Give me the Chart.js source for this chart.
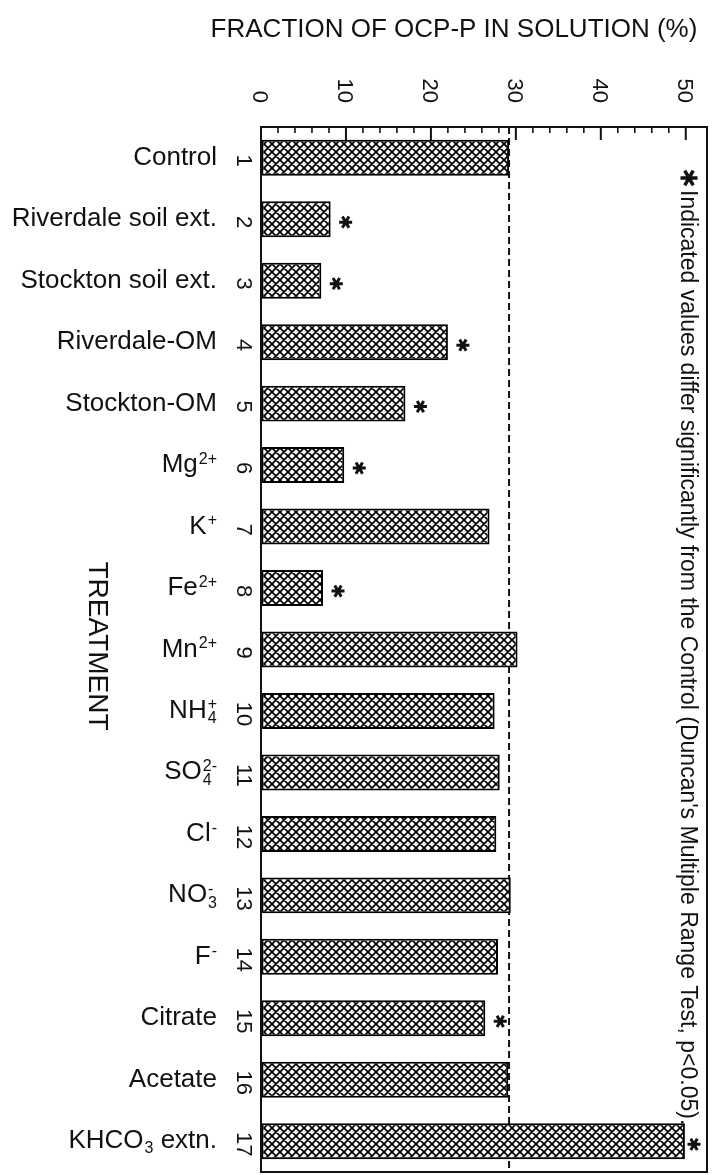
<!DOCTYPE html>
<html>
<head>
<meta charset="utf-8">
<title>Fraction of OCP-P in solution by treatment</title>
<script src="https://cdn.jsdelivr.net/npm/chart.js@4.4.1/dist/chart.umd.min.js"></script>
<style>
  html, body { margin: 0; padding: 0; background: #fff; }
  #wrap { width: 725px; height: 1175px; position: relative; }
  canvas { display: block; }
</style>
</head>
<body>
<div id="wrap"><canvas id="chart" width="725" height="1175"></canvas></div>
<script>
// ---- data ----
const treatmentNumbers = ["1","2","3","4","5","6","7","8","9","10","11","12","13","14","15","16","17"];
// ^{..} = superscript, _{..} = subscript
const treatmentNames = [
  "Control", "Riverdale soil ext.", "Stockton soil ext.", "Riverdale-OM", "Stockton-OM",
  "Mg^{2+}", "K^{+}", "Fe^{2+}", "Mn^{2+}", "NH_{4}^{+}", "SO_{4}^{2-}", "Cl^{-}",
  "NO_{3}^{-}", "F^{-}", "Citrate", "Acetate", "KHCO_{3} extn."
];
const fractionValues = [29.2, 8.2, 7.1, 22.0, 17.0, 9.8, 26.9, 7.3, 30.2, 27.5, 28.1, 27.7, 29.4, 27.9, 26.4, 29.1, 49.9];
const significant = [false, true, true, true, true, true, false, true, false, false, false, false, false, false, true, false, true];
const axisTickLabels = [0, 10, 20, 30, 40, 50];
const axisTitle = "FRACTION OF OCP-P IN SOLUTION (%)";
const categoryTitle = "TREATMENT";
const footnote = "Indicated values differ significantly from the Control (Duncan's Multiple Range Test, p<0.05).";

const FONT = '"Liberation Sans", Arial, Helvetica, sans-serif';
const INK = '#111';

// cross-hatched fill for the bars
function crossHatch() {
  const s = 8;
  const c = document.createElement('canvas');
  c.width = s; c.height = s;
  const g = c.getContext('2d');
  g.fillStyle = '#fff';
  g.fillRect(0, 0, s, s);
  g.strokeStyle = '#000';
  g.lineWidth = 1.8;
  g.beginPath();
  for (let k = -1; k <= 1; k++) {
    g.moveTo(-2, -2 + k * s); g.lineTo(s + 2, s + 2 + k * s);
  }
  for (let k = 0; k <= 2; k++) {
    g.moveTo(-2, k * s + 2); g.lineTo(s + 2, k * s - s - 2);
  }
  g.stroke();
  return g.createPattern(c, 'repeat');
}

// six-armed asterisk
function drawStar(ctx, cx, cy, r, w) {
  ctx.save();
  ctx.strokeStyle = INK;
  ctx.lineWidth = w;
  ctx.lineCap = 'butt';
  ctx.beginPath();
  for (let a = 0; a < 3; a++) {
    const ang = a * Math.PI / 3;
    ctx.moveTo(cx - r * Math.cos(ang), cy - r * Math.sin(ang));
    ctx.lineTo(cx + r * Math.cos(ang), cy + r * Math.sin(ang));
  }
  ctx.stroke();
  ctx.restore();
}

// text rotated 90 degrees clockwise (reads top to bottom)
function textCW(ctx, text, x, y, size, align) {
  ctx.save();
  ctx.translate(x, y);
  ctx.rotate(Math.PI / 2);
  ctx.font = size + 'px ' + FONT;
  ctx.fillStyle = INK;
  ctx.textAlign = align;
  ctx.textBaseline = 'alphabetic';
  ctx.fillText(text, 0, 0);
  ctx.restore();
}

function parseRich(str) {
  const parts = [];
  const re = /([\^_])\{([^}]*)\}|([^\^_]+)/g;
  let m;
  while ((m = re.exec(str))) {
    if (m[3]) parts.push({ k: 'n', t: m[3] });
    else parts.push({ k: m[1] === '^' ? 'sup' : 'sub', t: m[2] });
  }
  return parts;
}

// label with sub/superscripts, right-aligned at x, baseline y
function drawRichRight(ctx, str, x, y, size) {
  const parts = parseRich(str);
  const small = Math.round(size * 0.6);
  const runs = [];
  let pos = 0;
  for (let i = 0; i < parts.length; i++) {
    const p = parts[i];
    if (p.k === 'n') {
      ctx.font = size + 'px ' + FONT;
      runs.push({ t: p.t, f: ctx.font, dx: pos, dy: 0 });
      pos += ctx.measureText(p.t).width;
    } else {
      ctx.font = small + 'px ' + FONT;
      const dy = p.k === 'sup' ? -size * 0.31 : size * 0.2;
      const x0 = pos + 1;
      runs.push({ t: p.t, f: ctx.font, dx: x0, dy });
      let w = ctx.measureText(p.t).width;
      const nx = parts[i + 1];
      if (p.k === 'sub' && nx && nx.k === 'sup') {
        runs.push({ t: nx.t, f: ctx.font, dx: x0, dy: -size * 0.33 });
        w = Math.max(w, ctx.measureText(nx.t).width);
        i++;
      }
      pos = x0 + w;
    }
  }
  const start = x - pos;
  ctx.save();
  ctx.fillStyle = INK;
  ctx.textAlign = 'left';
  ctx.textBaseline = 'alphabetic';
  runs.forEach(r => { ctx.font = r.f; ctx.fillText(r.t, start + r.dx, y + r.dy); });
  ctx.restore();
}

const decorations = {
  id: 'decorations',
  beforeDatasetsDraw(chart) {
    const { ctx, chartArea: a, scales: { x } } = chart;
    // reference line at the Control value
    const xc = x.getPixelForValue(fractionValues[0]);
    ctx.save();
    ctx.strokeStyle = INK;
    ctx.lineWidth = 2;
    ctx.setLineDash([7, 4]);
    ctx.beginPath();
    ctx.moveTo(xc, a.top);
    ctx.lineTo(xc, a.bottom);
    ctx.stroke();
    ctx.restore();
  },
  afterDatasetsDraw(chart) {
    const { ctx, chartArea: a, scales: { x, y } } = chart;
    ctx.save();
    // frame
    ctx.strokeStyle = INK;
    ctx.lineWidth = 2;
    ctx.strokeRect(a.left, a.top, a.right - a.left, a.bottom - a.top);
    // inward tick marks along the value axis
    x.ticks.forEach(t => {
      const v = t.value;
      if (v <= x.min || v % 2 !== 0) return;
      const px = x.getPixelForValue(v);
      const major = v % 10 === 0;
      ctx.lineWidth = major ? 2 : 1.6;
      ctx.beginPath();
      ctx.moveTo(px, a.top);
      ctx.lineTo(px, a.top + (major ? 13 : 6));
      ctx.stroke();
    });
    ctx.restore();

    // value-axis labels
    axisTickLabels.forEach(v => {
      const px = x.getPixelForValue(v);
      textCW(ctx, String(v), px - 0.358 * 22, 103, 22, 'right');
    });

    // axis title
    ctx.save();
    ctx.font = '26px ' + FONT;
    ctx.fillStyle = INK;
    ctx.textAlign = 'center';
    ctx.textBaseline = 'alphabetic';
    ctx.fillText(axisTitle, 454, 37);
    ctx.restore();

    // category numbers, names and significance marks
    const meta = chart.getDatasetMeta(0);
    treatmentNumbers.forEach((num, i) => {
      const cy = y.getPixelForValue(i);
      textCW(ctx, num, 237, cy + 3, 22, 'center');
      drawRichRight(ctx, treatmentNames[i], 217, cy + 7, 26);
      if (significant[i]) {
        const bar = meta.data[i];
        const sx = Math.min(bar.x + 15, a.right - 13);
        drawStar(ctx, sx, cy + 3, 6.5, 3);
      }
    });

    // category title
    textCW(ctx, categoryTitle, 89, 646, 28, 'center');

    // footnote
    drawStar(ctx, 689, 178, 8.5, 3.5);
    textCW(ctx, footnote, 681, 190, 23, 'left');
  }
};

const ctx = document.getElementById('chart').getContext('2d');
new Chart(ctx, {
  type: 'bar',
  data: {
    labels: treatmentNumbers,
    datasets: [{
      data: fractionValues,
      backgroundColor: crossHatch(),
      borderColor: '#000',
      borderWidth: 2,
      borderSkipped: false,
      barPercentage: 0.585,
      categoryPercentage: 1
    }]
  },
  options: {
    indexAxis: 'y',
    responsive: false,
    animation: false,
    devicePixelRatio: 1,
    layout: { padding: { left: 261, right: 18, top: 127, bottom: 3 } },
    plugins: { legend: { display: false }, tooltip: { enabled: false }, title: { display: false } },
    scales: {
      x: {
        position: 'top',
        min: 0,
        max: 52.5,
        ticks: { display: false, stepSize: 2 },
        grid: { drawOnChartArea: false, drawTicks: false },
        border: { display: true, color: '#000', width: 2 }
      },
      y: {
        ticks: { display: false },
        grid: { drawOnChartArea: false, drawTicks: false },
        border: { display: true, color: '#000', width: 2 }
      }
    }
  },
  plugins: [decorations]
});
</script>
</body>
</html>
